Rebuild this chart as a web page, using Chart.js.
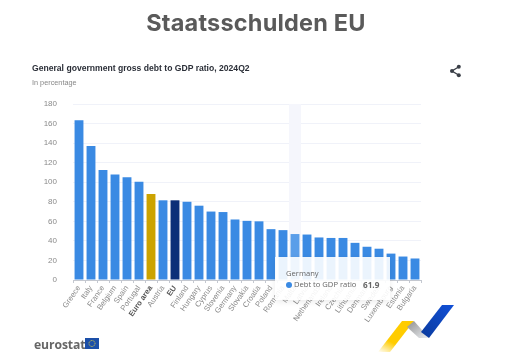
<!DOCTYPE html>
<html>
<head>
<meta charset="utf-8">
<title>Staatsschulden EU</title>
<script src="https://cdn.jsdelivr.net/npm/chart.js@4"></script>
<style>
  html, body { margin: 0; background: #fff; }
  #page { position: relative; width: 512px; height: 352px; overflow: hidden; font-family: "Liberation Sans", sans-serif; }
  #page > * { position: absolute; }
  #debtChart { left: 0; top: 0; }
  #heading { left: 0; width: 512px; top: 8px; text-align: center; font: 700 23.5px Inter, sans-serif; color: #5a5a5a; letter-spacing: .2px; }
  #title { left: 32px; top: 63px; font-size: 8.6px; font-weight: 700; color: #2b2f38; }
  #subtitle { left: 32px; top: 77.5px; font-size: 7.3px; color: #888; }
  #tip { left: 275px; top: 257px; width: 115px; height: 43px; background: rgba(255,255,255,.9); box-shadow: 0 2px 6px rgba(0,0,0,.08); font-family: "Open Sans", sans-serif; font-size: 7.6px; color: #666; }
  #tip div { position: absolute; white-space: nowrap; }
  #tipName { left: 11px; top: 10.5px; }
  #tipDot { left: 11px; top: 24.5px; width: 6px; height: 6px; border-radius: 50%; background: #3a8ae3; }
  #tipLabel { left: 19px; top: 22px; }
  #tipValue { left: 88px; top: 21.5px; font-weight: 700; font-size: 8.2px; }
  #wordmark { left: 34px; top: 336px; font: 700 12.2px "Open Sans", sans-serif; color: #666; letter-spacing: -.1px; }
</style>
</head>
<body>
<div id="page">
  <canvas id="debtChart" width="512" height="352"></canvas>
  <div id="heading">Staatsschulden EU</div>
  <div id="title">General government gross debt to GDP ratio, 2024Q2</div>
  <div id="subtitle">In percentage</div>
  <svg style="left:449px;top:64px" width="13" height="14" viewBox="0 0 13 14">
    <path d="M9.5 3 3 7l6.5 4" fill="none" stroke="#3a3f47" stroke-width="1.4"/>
    <circle cx="9.8" cy="2.8" r="2" fill="#3a3f47"/><circle cx="3" cy="7" r="2" fill="#3a3f47"/><circle cx="9.8" cy="11.2" r="2" fill="#3a3f47"/>
  </svg>
  <div id="tip">
    <div id="tipName"></div>
    <div id="tipDot"></div>
    <div id="tipLabel"></div>
    <div id="tipValue"></div>
  </div>
  <div id="wordmark">eurostat</div>
  <svg style="left:85px;top:338px" width="14" height="11" viewBox="0 0 14 11">
    <rect width="14" height="11" fill="#1c4fa8"/>
    <circle cx="7" cy="5.5" r="3" fill="none" stroke="#d6c94a" stroke-width=".9" stroke-dasharray="1 .6"/>
  </svg>
  <svg style="left:370px;top:300px" width="90" height="52" viewBox="0 0 90 52">
    <defs>
      <linearGradient id="yel" x1="0" y1="1" x2=".6" y2="0">
        <stop offset="0" stop-color="#ffcc00" stop-opacity="0"/>
        <stop offset=".4" stop-color="#ffcc00"/>
      </linearGradient>
      <linearGradient id="gre" x1="0" y1="0" x2="1" y2="1">
        <stop offset="0" stop-color="#8f8f8f"/>
        <stop offset="1" stop-color="#eceff3"/>
      </linearGradient>
      <linearGradient id="blu" x1="0" y1="1" x2="1" y2="0">
        <stop offset="0" stop-color="#0a3a9c"/>
        <stop offset="1" stop-color="#1150d8"/>
      </linearGradient>
    </defs>
    <polygon points="8,52 32,21 44,21 20,52" fill="url(#yel)"/>
    <polygon points="44,21 37,27 49,38 59,38" fill="url(#gre)"/>
    <polygon points="51,32 59,38 84,5 72,5" fill="url(#blu)"/>
  </svg>
</div>
<script>
const categories = ["Greece", "Italy", "France", "Belgium", "Spain", "Portugal", "Euro area", "Austria", "EU", "Finland", "Hungary", "Cyprus", "Slovenia", "Germany", "Slovakia", "Croatia", "Poland", "Romania", "Malta", "Latvia", "Netherlands", "Ireland", "Czechia", "Lithuania", "Denmark", "Sweden", "Luxembourg", "Estonia", "Bulgaria"];
const debtValues = [163.5, 137, 112.5, 108, 105, 100.5, 88, 81.5, 81.5, 80, 76, 70, 69.5, 61.9, 60.5, 60, 52, 51, 47, 46.5, 43.5, 43, 43, 38, 34, 32, 27, 24, 22];
const yTicks = [0, 20, 40, 60, 80, 100, 120, 140, 160, 180];
const seriesName = "Debt to GDP ratio";
const tipCategory = "Germany";
const hoverBand = "Malta";

// aggregates get their own colour and a bold label
const barColor = c => c === "Euro area" ? "#cca300" : c === "EU" ? "#0c2f78" : c === hoverBand ? "#5a9ee9" : "#3a8ae3";

document.getElementById("tipName").textContent = tipCategory;
document.getElementById("tipLabel").textContent = seriesName;
document.getElementById("tipValue").textContent = debtValues[categories.indexOf(tipCategory)];

const bandPlugin = {
  id: "hoverBand",
  beforeDatasetsDraw(chart) {
    const { ctx, chartArea, scales: { x } } = chart;
    const i = categories.indexOf(hoverBand);
    const w = x.getPixelForValue(1) - x.getPixelForValue(0);
    ctx.save();
    ctx.fillStyle = "#f5f6fc";
    ctx.fillRect(x.getPixelForValue(i) - w / 2, chartArea.top, w, chartArea.height);
    ctx.restore();
  }
};

new Chart(document.getElementById("debtChart"), {
  type: "bar",
  plugins: [bandPlugin],
  data: {
    labels: categories,
    datasets: [{
      label: seriesName,
      data: debtValues,
      backgroundColor: categories.map(barColor),
      barPercentage: 0.74,
      categoryPercentage: 1
    }]
  },
  options: {
    responsive: false,
    animation: false,
    events: [],
    layout: { padding: { top: 104, right: 91, bottom: 0, left: 0 } },
    plugins: {
      legend: { display: false },
      tooltip: { enabled: false }
    },
    scales: {
      x: {
        afterFit: s => { s.height = 72; },
        border: { color: "#c4c8d0" },
        grid: { offset: true, drawOnChartArea: false, tickLength: 3, color: "#c4c8d0" },
        ticks: {
          autoSkip: false,
          minRotation: 55,
          maxRotation: 55,
          padding: 1,
          color: c => ["Euro area", "EU"].includes(categories[c.index]) ? "#555" : "#8a8a8a",
          font: c => ({
            family: "Liberation Sans",
            size: 7.7,
            weight: ["Euro area", "EU"].includes(categories[c.index]) ? "700" : "400"
          })
        }
      },
      y: {
        min: 0,
        max: 180,
        afterFit: s => { s.width = 73; },
        afterBuildTicks: s => { s.ticks = yTicks.map(value => ({ value })); },
        border: { display: false },
        grid: { color: "#f0f2f9", drawTicks: false },
        ticks: {
          padding: 16,
          color: "#8a8a8a",
          font: { family: "Liberation Sans", size: 8 }
        }
      }
    }
  }
});
</script>
</body>
</html>
